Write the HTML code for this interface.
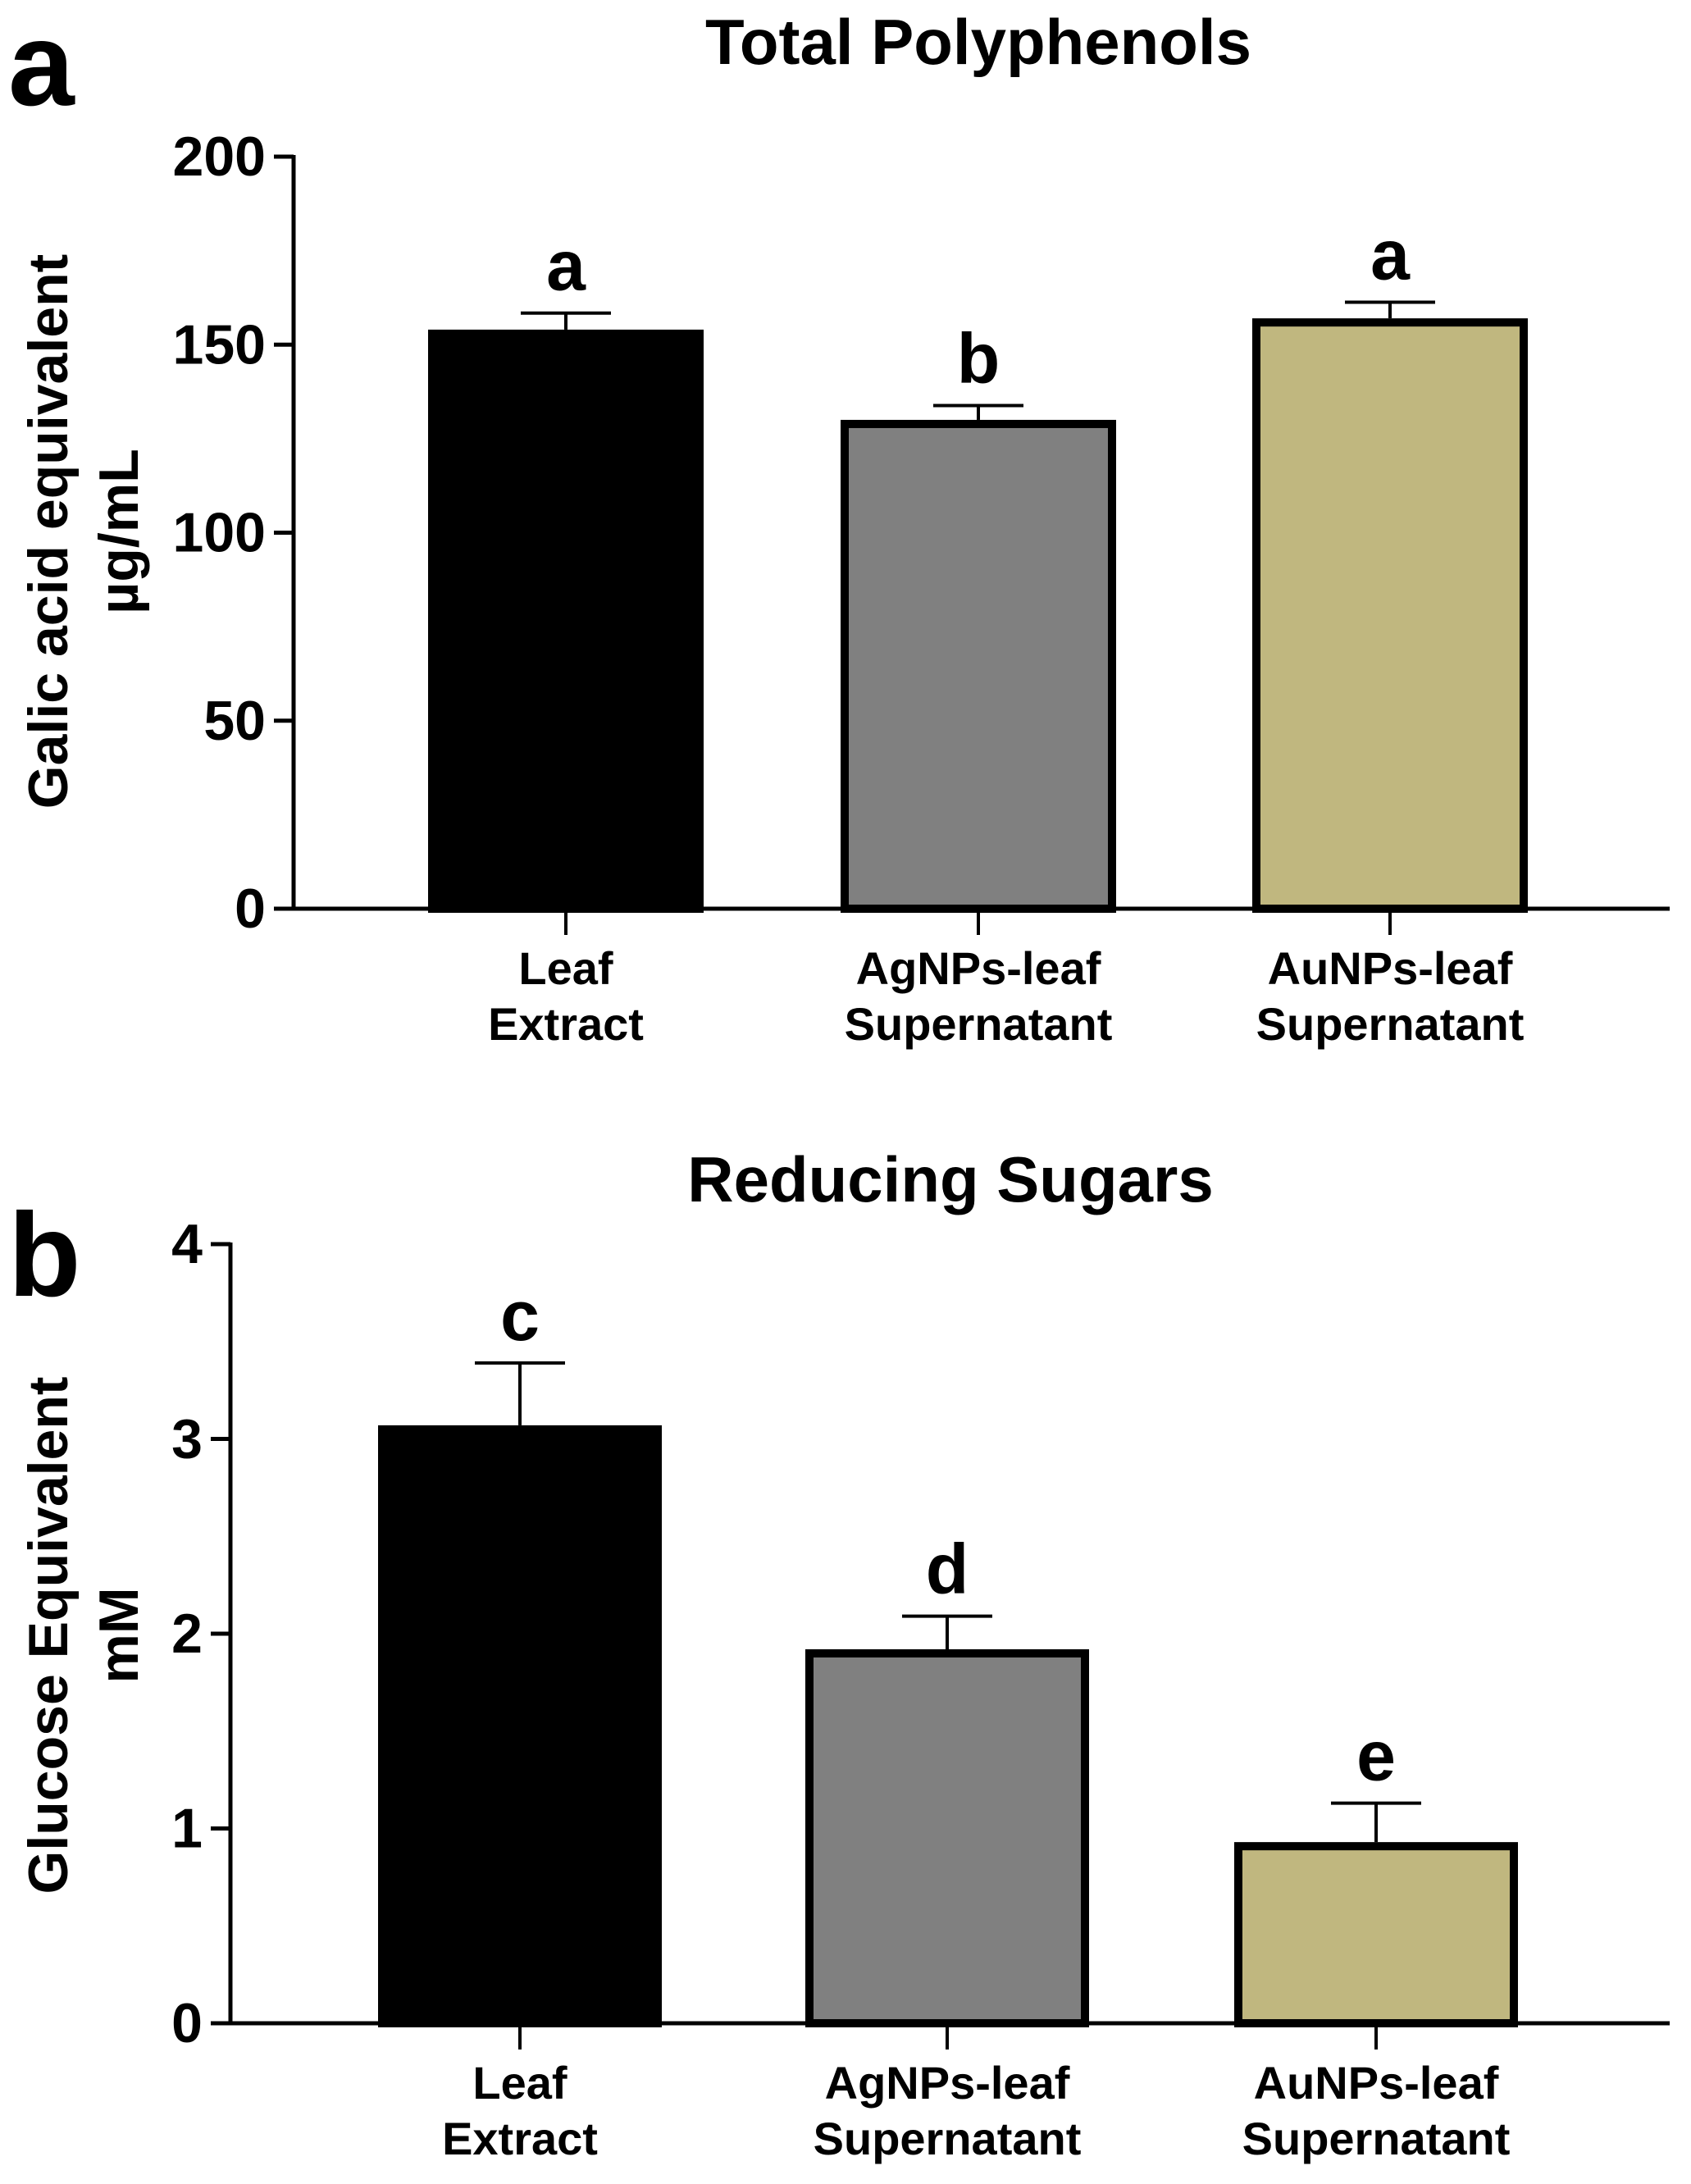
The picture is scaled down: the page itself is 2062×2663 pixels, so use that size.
<!DOCTYPE html>
<html><head><meta charset="utf-8"><style>
html,body{margin:0;padding:0;background:#fff;}
svg{display:block;}
text{font-family:"Liberation Sans Narrow","Liberation Sans",sans-serif;font-weight:bold;fill:#000;}
.yt{font-family:"Liberation Sans",sans-serif;}
</style></head><body>
<svg id="fig" width="2062" height="2663" viewBox="0 0 2062 2663" xmlns="http://www.w3.org/2000/svg"></svg>
<script>
const categories = [["Leaf","Extract"],["AgNPs-leaf","Supernatant"],["AuNPs-leaf","Supernatant"]];
const colors = ["#000000","#808080","#c0b77f"];
const polyValues = [154, 130, 157];
const polyErrors = [4.4, 3.8, 4.3];
const polyLetters = ["a","b","a"];
const polyTicks = [0, 50, 100, 150, 200];
const sugarValues = [3.07, 1.92, 0.93];
const sugarErrors = [0.32, 0.17, 0.2];
const sugarLetters = ["c","d","e"];
const sugarTicks = [0, 1, 2, 3, 4];

const NS = "http://www.w3.org/2000/svg";
const svg = document.getElementById("fig");
function mk(tag, attrs, parent, txt){
  const e = document.createElementNS(NS, tag);
  for (const k in attrs) e.setAttribute(k, attrs[k]);
  if (txt !== undefined) e.textContent = txt;
  (parent || svg).appendChild(e);
  return e;
}

function panel(cfg){
  const g = mk("g", {});
  
  
  const yMax = cfg.ticks[cfg.ticks.length-1];
  const y = v => cfg.y0 - (v / yMax) * (cfg.y0 - cfg.yTop);
  const x = i => cfg.centers[i];

  const lt = mk("text", {x: cfg.letterX, y: cfg.letterY, "font-size": 145, "class":"yt"}, g, cfg.letter);
  
  

  const tt = mk("text", {x: cfg.titleX, y: cfg.titleY, "font-size": 78, "text-anchor":"middle", "class":"yt"}, g, cfg.title);
  
  

  for (let i = 0; i < cfg.values.length; i++){
    const top = y(cfg.values[i]);
    const hw = cfg.barW / 2;
    const errTop = y(cfg.values[i] + cfg.errors[i]);
    const el = mk("line", {x1: x(i), x2: x(i), y1: top, y2: errTop, stroke:"#000", "stroke-width":4}, g);
    
    
    const cap = mk("line", {x1: x(i)-55, x2: x(i)+55, y1: errTop, y2: errTop, stroke:"#000", "stroke-width":4}, g);
    
    
    const r = mk("rect", {x: x(i)-hw+5, y: top+5, width: cfg.barW-10, height: cfg.y0 - top - 5, fill: colors[i], stroke:"#000", "stroke-width":10}, g);
    
    
    const sl = mk("text", {x: x(i), y: errTop - 28, "font-size": 86, "text-anchor":"middle"}, g, cfg.letters[i]);
    
    
    const xt = mk("line", {x1: x(i), x2: x(i), y1: cfg.y0, y2: cfg.y0 + 32, stroke:"#000", "stroke-width":4}, g);
    
    
    for (let k = 0; k < 2; k++){
      const cl = mk("text", {x: x(i), y: cfg.y0 + 92 + k*68, "font-size": 56, "text-anchor":"middle"}, g, categories[i][k]);
      
      
    }
  }
  const ya = mk("line", {x1: cfg.axisX, x2: cfg.axisX, y1: cfg.yTop - 2, y2: cfg.y0 + 2, stroke:"#000", "stroke-width":5}, g);
  
  
  const xa = mk("line", {x1: cfg.axisX - 2, x2: 2036, y1: cfg.y0, y2: cfg.y0, stroke:"#000", "stroke-width":5}, g);
  
  
  cfg.ticks.forEach(t => {
    const tl = mk("line", {x1: cfg.axisX - 24, x2: cfg.axisX, y1: y(t), y2: y(t), stroke:"#000", "stroke-width":5}, g);
    
    
    const tx = mk("text", {x: cfg.axisX - 34, y: y(t) + 23, "font-size": 68, "text-anchor":"end"}, g, String(t));
    
    
  });
  cfg.yTitles.forEach((s, k) => {
    const yx = 82 + k*86;
    const yt = mk("text", {x: yx, y: cfg.yTitleY, "font-size": 68, "text-anchor":"middle", "class":"yt", transform:`rotate(-90 ${yx} ${cfg.yTitleY})`}, g, s);
    
    
  });
}

panel({name:"chart-total-polyphenols", letter:"a", letterX:10, letterY:128, title:"Total Polyphenols", titleX:1193, titleY:78,
  axisX:358, yTop:191, y0:1108, centers:[690,1193,1695], barW:336, values:polyValues, errors:polyErrors,
  letters:polyLetters, ticks:polyTicks, yTitles:["Galic acid equivalent","µg/mL"], yTitleY:648});
panel({name:"chart-reducing-sugars", letter:"b", letterX:10, letterY:1580, title:"Reducing Sugars", titleX:1159, titleY:1465,
  axisX:281, yTop:1517, y0:2467, centers:[634,1155,1678], barW:346, values:sugarValues, errors:sugarErrors,
  letters:sugarLetters, ticks:sugarTicks, yTitles:["Glucose Equivalent","mM"], yTitleY:1994});
</script>
</body></html>
